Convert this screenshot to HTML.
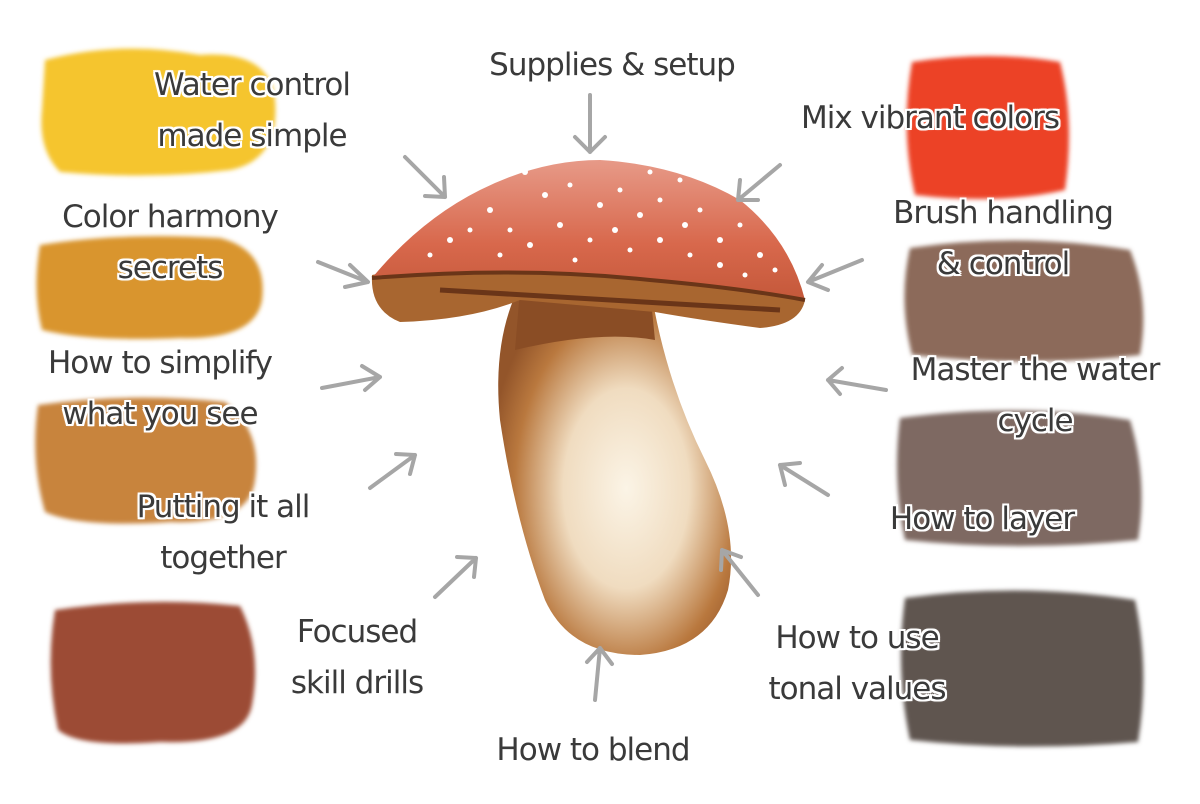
<!DOCTYPE html>
<html><head><meta charset="utf-8"><style>
html,body{margin:0;padding:0;background:#fff;}
.w{position:relative;width:1200px;height:804px;overflow:hidden;background:#fff;}
svg{position:absolute;left:0;top:0;}
.t{position:absolute;font-family:"DejaVu Sans","Liberation Sans",sans-serif;font-size:31px;color:#3a3a3a;text-align:center;line-height:51px;white-space:nowrap;transform:translateX(-50%);letter-spacing:-1px;
text-shadow:0 0 3px #fff,0 0 3px #fff,2px 0 0 #fff,-2px 0 0 #fff,0 2px 0 #fff,0 -2px 0 #fff,2px 2px 0 #fff,-2px -2px 0 #fff,2px -2px 0 #fff,-2px 2px 0 #fff;}
</style></head><body><div class="w">
<svg width="1200" height="804" viewBox="0 0 1200 804">
<defs>
<filter id="b" x="-10%" y="-10%" width="120%" height="120%"><feGaussianBlur stdDeviation="2"/></filter>
<radialGradient id="stem" cx="0.55" cy="0.55" r="0.6"><stop offset="0" stop-color="#fbf4e6"/><stop offset="0.45" stop-color="#f0dcc0"/><stop offset="0.8" stop-color="#b9783e"/><stop offset="1" stop-color="#93552a"/></radialGradient>
<linearGradient id="cap" x1="0" y1="0" x2="0" y2="1"><stop offset="0" stop-color="#e79a88"/><stop offset="0.6" stop-color="#d8684c"/><stop offset="1" stop-color="#c4583a"/></linearGradient>
</defs>
<g filter="url(#b)">
<path d="M45,60 Q120,40 200,55 Q270,50 275,100 Q280,160 230,170 Q150,180 60,172 Q38,150 42,110 Z" fill="#f5c52e"/>
<path d="M40,245 Q120,232 220,238 Q268,250 262,300 Q255,340 180,338 Q90,342 42,330 Q32,290 40,245 Z" fill="#d9952f"/>
<path d="M38,405 Q130,392 225,402 Q262,430 255,480 Q250,525 170,522 Q80,528 45,512 Q30,460 38,405 Z" fill="#c8843d"/>
<path d="M55,610 Q150,596 240,606 Q262,650 252,705 Q245,745 160,742 Q80,748 58,730 Q45,670 55,610 Z" fill="#9c4b34"/>
<path d="M912,62 Q990,50 1060,62 Q1075,120 1065,190 Q1000,205 915,195 Q900,130 912,62 Z" fill="#ec4326"/>
<path d="M910,248 Q1020,232 1130,250 Q1150,300 1140,355 Q1030,368 912,355 Q898,300 910,248 Z" fill="#8c6b5a"/>
<path d="M900,418 Q1020,402 1130,420 Q1148,480 1138,540 Q1020,552 905,540 Q892,480 900,418 Z" fill="#7e6962"/>
<path d="M905,598 Q1020,582 1135,600 Q1150,670 1138,742 Q1020,752 910,740 Q895,670 905,598 Z" fill="#5f5450"/>
</g>
<!-- stem -->
<path d="M520,285 L650,285 Q665,380 705,460 Q740,530 728,590 Q710,650 640,655 Q570,655 545,600 Q515,520 500,420 Q492,340 520,285 Z" fill="url(#stem)"/>
<path d="M520,290 L650,290 L655,340 Q600,330 515,350 Z" fill="#8a4d25"/>
<!-- cap underside -->
<path d="M372,275 Q450,258 600,262 Q740,268 805,300 Q800,325 760,328 Q700,320 655,312 L520,300 Q470,320 400,322 Q370,310 372,275 Z" fill="#a86630"/>
<path d="M440,290 L780,310" stroke="#6a3518" stroke-width="5" fill="none"/>
<!-- cap top -->
<path d="M372,278 Q420,220 480,190 Q540,160 600,160 Q680,165 740,200 Q790,240 805,300 Q720,285 650,280 Q520,268 372,278 Z" fill="url(#cap)"/>
<path d="M372,278 Q520,266 650,280 Q740,288 805,300" stroke="#6a3518" stroke-width="4" fill="none"/>
<g fill="#fff">
<circle cx="525" cy="172" r="3"/><circle cx="545" cy="195" r="3"/><circle cx="570" cy="185" r="2.5"/><circle cx="600" cy="205" r="3"/><circle cx="620" cy="190" r="2.5"/><circle cx="640" cy="215" r="3"/><circle cx="660" cy="200" r="2.5"/><circle cx="685" cy="225" r="3"/><circle cx="700" cy="210" r="2.5"/><circle cx="720" cy="240" r="3"/><circle cx="740" cy="225" r="2.5"/><circle cx="760" cy="255" r="3"/><circle cx="490" cy="210" r="3"/><circle cx="470" cy="230" r="2.5"/><circle cx="450" cy="240" r="3"/><circle cx="510" cy="230" r="2.5"/><circle cx="530" cy="245" r="3"/><circle cx="560" cy="225" r="3"/><circle cx="590" cy="240" r="2.5"/><circle cx="615" cy="230" r="3"/><circle cx="630" cy="250" r="2.5"/><circle cx="660" cy="240" r="3"/><circle cx="690" cy="255" r="2.5"/><circle cx="720" cy="265" r="3"/><circle cx="745" cy="275" r="2.5"/><circle cx="575" cy="260" r="2.5"/><circle cx="500" cy="255" r="2.5"/><circle cx="430" cy="255" r="2.5"/><circle cx="680" cy="180" r="2.5"/><circle cx="650" cy="172" r="2.5"/><circle cx="775" cy="270" r="2.5"/>
</g>
<!-- arrows -->
<g stroke="#a6a6a6" stroke-width="4" fill="none" stroke-linecap="round" stroke-linejoin="round">
<path d="M590,95 L590,152 M575,137 L590,152 L605,137"/>
<path d="M405,157 L445,197 M425,196 L445,197 L444,177"/>
<path d="M780,165 L738,200 M740,180 L738,200 L758,200"/>
<path d="M318,262 L368,282 M350,265 L368,282 L345,287"/>
<path d="M862,260 L808,282 M822,265 L808,282 L828,290"/>
<path d="M322,388 L380,377 M362,366 L380,377 L365,390"/>
<path d="M886,390 L828,380 M842,368 L828,380 L840,394"/>
<path d="M370,488 L415,455 M396,454 L415,455 L410,474"/>
<path d="M828,495 L780,465 M800,463 L780,465 L785,485"/>
<path d="M435,597 L476,558 M457,557 L476,558 L474,577"/>
<path d="M758,595 L722,550 M721,570 L722,550 L741,557"/>
<path d="M595,700 L600,648 M587,662 L600,648 L612,664"/>
</g>
</svg>
<div class="t" style="left:612px;top:40px">Supplies &amp; setup</div>
<div class="t" style="left:252px;top:60px">Water control<br>made simple</div>
<div class="t" style="left:930px;top:93px">Mix vibrant colors</div>
<div class="t" style="left:170px;top:192px">Color harmony<br>secrets</div>
<div class="t" style="left:1003px;top:188px">Brush handling<br>&amp; control</div>
<div class="t" style="left:160px;top:338px">How to simplify<br>what you see</div>
<div class="t" style="left:1035px;top:345px">Master the water<br>cycle</div>
<div class="t" style="left:223px;top:482px">Putting it all<br>together</div>
<div class="t" style="left:982px;top:494px">How to layer</div>
<div class="t" style="left:357px;top:607px">Focused<br>skill drills</div>
<div class="t" style="left:857px;top:613px">How to use<br>tonal values</div>
<div class="t" style="left:593px;top:725px">How to blend</div>
</div></body></html>
